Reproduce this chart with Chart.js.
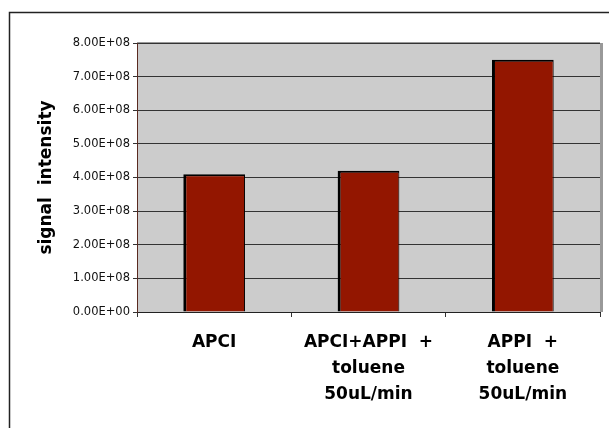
<!DOCTYPE html>
<html>
<head>
<meta charset="utf-8">
<script src="https://cdn.jsdelivr.net/npm/chart.js@4/dist/chart.umd.min.js"></script>
<style>
  html, body { margin: 0; padding: 0; background: #fff; }
  #wrap { width: 609px; height: 428px; }
</style>
</head>
<body>
<div id="wrap"><canvas id="chart" width="609" height="428"></canvas></div>
<script>
// ionisation modes and the signal measured for each
const modes = [
    ["APCI"],
    ["APCI+APPI  +", "toluene", "50uL/min"],
    ["APPI  +", "toluene", "50uL/min"]
];
const intensity = [4.1e8, 4.2e8, 7.5e8];
const yMax = 8e8;
const yStep = 1e8;

// grey plot area, shadow edge and the outer frame
const frame = {
    id: 'frame',
    beforeDraw(chart) {
        const c = chart.ctx, a = chart.chartArea;
        c.save();
        c.fillStyle = '#fff';
        c.fillRect(0, 0, chart.width, chart.height);
        c.strokeStyle = '#222';
        c.lineWidth = 1.5;
        c.beginPath();
        c.moveTo(9.5, chart.height + 2);
        c.lineTo(9.5, 12.5);
        c.lineTo(chart.width + 2, 12.5);
        c.stroke();
        c.fillStyle = '#cccccc';
        c.fillRect(a.left, a.top, a.right - a.left, a.bottom - a.top);
        c.fillStyle = '#999';
        c.fillRect(a.left, a.top - 1, a.right - a.left, 1);
        c.fillRect(a.right, a.top, 3, a.bottom - a.top);
        c.restore();
    }
};

new Chart(document.getElementById('chart'), {
    type: 'bar',
    data: {
        labels: modes,
        datasets: [{
            data: intensity,
            backgroundColor: '#931600',
            borderColor: '#000',
            borderWidth: {top: 2, left: 3, right: 1, bottom: 0},
            borderSkipped: false,
            barPercentage: 0.4,
            categoryPercentage: 1
        }]
    },
    options: {
        responsive: false,
        animation: false,
        layout: {padding: {top: 43, right: 9, left: 0, bottom: 0}},
        plugins: {legend: {display: false}, tooltip: {enabled: false}},
        scales: {
            x: {
                afterFit: s => { s.height = 116; },
                grid: {display: true, drawOnChartArea: false, drawTicks: true, tickLength: 5, color: '#333', offset: true},
                border: {color: '#222', width: 1},
                ticks: {
                    color: '#000',
                    padding: 13,
                    maxRotation: 0,
                    autoSkip: false,
                    font: {family: 'DejaVu Sans', size: 17, weight: 'bold', lineHeight: 26 / 17}
                }
            },
            y: {
                min: 0,
                max: yMax,
                afterFit: s => { s.width = 137; },
                grid: {color: '#333', tickLength: 4, lineWidth: 1},
                border: {color: '#5a2a20', width: 1},
                ticks: {
                    stepSize: yStep,
                    padding: 3,
                    color: '#111',
                    font: {family: 'DejaVu Sans', size: 11.5},
                    callback: v => {
                        const e = v === 0 ? 0 : Math.floor(Math.log10(v));
                        const m = v / Math.pow(10, e);
                        return m.toFixed(2) + 'E+' + String(e).padStart(2, '0');
                    }
                },
                title: {
                    display: true,
                    text: 'signal  intensity',
                    color: '#000',
                    padding: {top: 36, bottom: 0},
                    font: {family: 'DejaVu Sans', size: 17, weight: 'bold', lineHeight: 1.2}
                }
            }
        }
    },
    plugins: [frame]
});
</script>
</body>
</html>
